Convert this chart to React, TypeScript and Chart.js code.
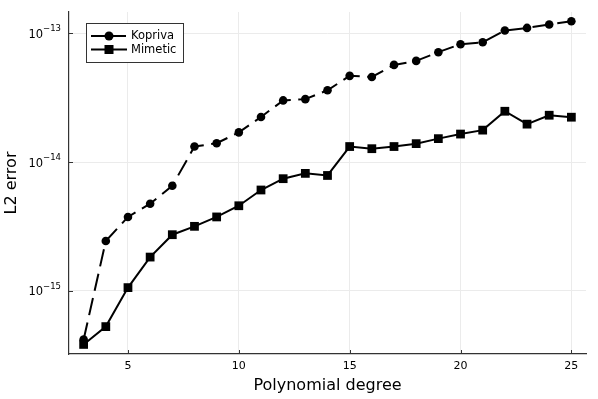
import React, { useEffect, useRef } from "react";
import { Chart, registerables } from "chart.js";

Chart.register(...registerables);

const degrees = [3, 4, 5, 6, 7, 8, 9, 10, 11, 12, 13, 14, 15, 16, 17, 18, 19, 20, 21, 22, 23, 24, 25];
const kopriva = [
  4.19e-16, 2.44e-15, 3.75e-15, 4.75e-15, 6.55e-15, 1.32e-14, 1.40e-14, 1.70e-14, 2.24e-14, 3.01e-14,
  3.08e-14, 3.61e-14, 4.67e-14, 4.58e-14, 5.68e-14, 6.10e-14, 7.13e-14, 8.22e-14, 8.51e-14, 1.05e-13,
  1.10e-13, 1.17e-13, 1.24e-13,
];
const mimetic = [
  3.84e-16, 5.28e-16, 1.06e-15, 1.83e-15, 2.73e-15, 3.17e-15, 3.75e-15, 4.58e-15, 6.07e-15, 7.43e-15,
  8.17e-15, 7.87e-15, 1.32e-14, 1.27e-14, 1.32e-14, 1.39e-14, 1.52e-14, 1.65e-14, 1.77e-14, 2.48e-14,
  1.97e-14, 2.31e-14, 2.23e-14,
];
const xTicks = [5, 10, 15, 20, 25];
const yTickExps = [-15, -14, -13];
const seriesNames = ["Kopriva", "Mimetic"];
const xTitle = "Polynomial degree";
const yTitle = "L2 error";

const FONT = "'DejaVu Sans', sans-serif";
const DASH = [17.5, 7.5];

const overlayPlugin = {
  id: "overlay",
  afterDraw(chart: any) {
    const ctx = chart.ctx;
    const area = chart.chartArea;
    const xs = chart.scales.x;
    const ys = chart.scales.y;
    ctx.save();
    // inward ticks
    ctx.strokeStyle = "#333";
    ctx.lineWidth = 1;
    for (const t of xTicks) {
      const px = Math.round(xs.getPixelForValue(t)) + 0.5;
      ctx.beginPath();
      ctx.moveTo(px, area.bottom);
      ctx.lineTo(px, area.bottom - 4);
      ctx.stroke();
    }
    for (const e of yTickExps) {
      const py = Math.round(ys.getPixelForValue(Math.pow(10, e))) + 0.5;
      ctx.beginPath();
      ctx.moveTo(area.left, py);
      ctx.lineTo(area.left + 4, py);
      ctx.stroke();
    }
    // x tick labels
    ctx.fillStyle = "#000";
    ctx.font = `11px ${FONT}`;
    ctx.textAlign = "center";
    ctx.textBaseline = "middle";
    for (const t of xTicks) {
      ctx.fillText(String(t), xs.getPixelForValue(t), area.bottom + 12);
    }
    // y tick labels with superscript
    for (const e of yTickExps) {
      const py = ys.getPixelForValue(Math.pow(10, e));
      const exp = "\u2212" + String(Math.abs(e));
      ctx.font = `8.5px ${FONT}`;
      const ew = ctx.measureText(exp).width;
      ctx.textAlign = "right";
      ctx.textBaseline = "middle";
      const right = area.left - 8;
      ctx.fillText(exp, right, py - 4);
      ctx.font = `11.5px ${FONT}`;
      ctx.fillText("10", right - ew, py + 1.5);
    }
    // legend
    const bx = 86, by = 23, bw = 97, bh = 39;
    ctx.fillStyle = "#fff";
    ctx.fillRect(bx, by, bw, bh);
    ctx.strokeStyle = "#333";
    ctx.lineWidth = 1;
    ctx.strokeRect(bx + 0.5, by + 0.5, bw, bh);
    const rows = [by + 13, by + 26.5];
    chart.data.datasets.forEach((ds: any, i: number) => {
      const y = rows[i];
      ctx.strokeStyle = "#000";
      ctx.lineWidth = 2;
      ctx.setLineDash(i === 0 ? [14, 7] : []);
      ctx.beginPath();
      ctx.moveTo(bx + 5, y);
      ctx.lineTo(bx + 41, y);
      ctx.stroke();
      ctx.setLineDash([]);
      ctx.fillStyle = "#000";
      if (i === 0) {
        ctx.beginPath();
        ctx.arc(bx + 23, y, 4.5, 0, Math.PI * 2);
        ctx.fill();
      } else {
        ctx.fillRect(bx + 23 - 4.5, y - 4.5, 9, 9);
      }
      ctx.font = `11.5px ${FONT}`;
      ctx.textAlign = "left";
      ctx.textBaseline = "middle";
      ctx.fillText(ds.label, bx + 45, y + 0.5);
    });
    ctx.restore();
  },
};

export default function App() {
  const ref = useRef<HTMLCanvasElement>(null);
  useEffect(() => {
    document.body.style.margin = "0";
    const chart = new Chart(ref.current!, {
      type: "line",
      data: {
        datasets: [
          {
            label: seriesNames[0],
            data: degrees.map((d, i) => ({ x: d, y: kopriva[i] })),
            borderColor: "#000",
            backgroundColor: "#000",
            borderWidth: 2,
            borderDash: DASH,
            pointStyle: "circle",
            pointRadius: 4.3,
            pointBorderWidth: 0,
            pointBackgroundColor: "#000",
            tension: 0,
          },
          {
            label: seriesNames[1],
            data: degrees.map((d, i) => ({ x: d, y: mimetic[i] })),
            borderColor: "#000",
            backgroundColor: "#000",
            borderWidth: 2,
            pointStyle: "rect",
            pointRadius: 6.2,
            pointBorderWidth: 0,
            pointBackgroundColor: "#000",
            tension: 0,
          },
        ],
      },
      options: {
        animation: false,
        responsive: false,
        maintainAspectRatio: false,
        layout: { padding: { top: 12, right: 12, left: 0, bottom: 0 } },
        plugins: { legend: { display: false }, tooltip: { enabled: false } },
        scales: {
          x: {
            type: "linear",
            min: 2.34,
            max: 25.66,
            afterBuildTicks: (s: any) => {
              s.ticks = xTicks.map((v) => ({ value: v }));
            },
            afterFit: (s: any) => {
              s.height = 45;
            },
            ticks: { display: false },
            grid: { color: "#ebebeb", lineWidth: 1, drawTicks: false },
            border: { color: "#333", width: 1.2 },
            title: {
              display: true,
              text: xTitle,
              color: "#000",
              font: { family: FONT, size: 16 },
              padding: { top: 0, bottom: 4 },
            },
          },
          y: {
            type: "logarithmic",
            min: Math.pow(10, -15.49),
            max: Math.pow(10, -12.835),
            afterBuildTicks: (s: any) => {
              s.ticks = yTickExps.map((e) => ({ value: Math.pow(10, e) }));
            },
            afterFit: (s: any) => {
              s.width = 69;
            },
            ticks: { display: false },
            grid: { color: "#ebebeb", lineWidth: 1, drawTicks: false },
            border: { color: "#333", width: 1.2 },
            title: {
              display: true,
              text: yTitle,
              color: "#000",
              font: { family: FONT, size: 16 },
              padding: { top: 2, bottom: 0 },
            },
          },
        },
      },
      plugins: [overlayPlugin],
    });
    return () => chart.destroy();
  }, []);
  return (
    <div style={{ width: 598, height: 399 }}>
      <canvas ref={ref} width={598} height={399} style={{ display: "block" }} />
    </div>
  );
}
